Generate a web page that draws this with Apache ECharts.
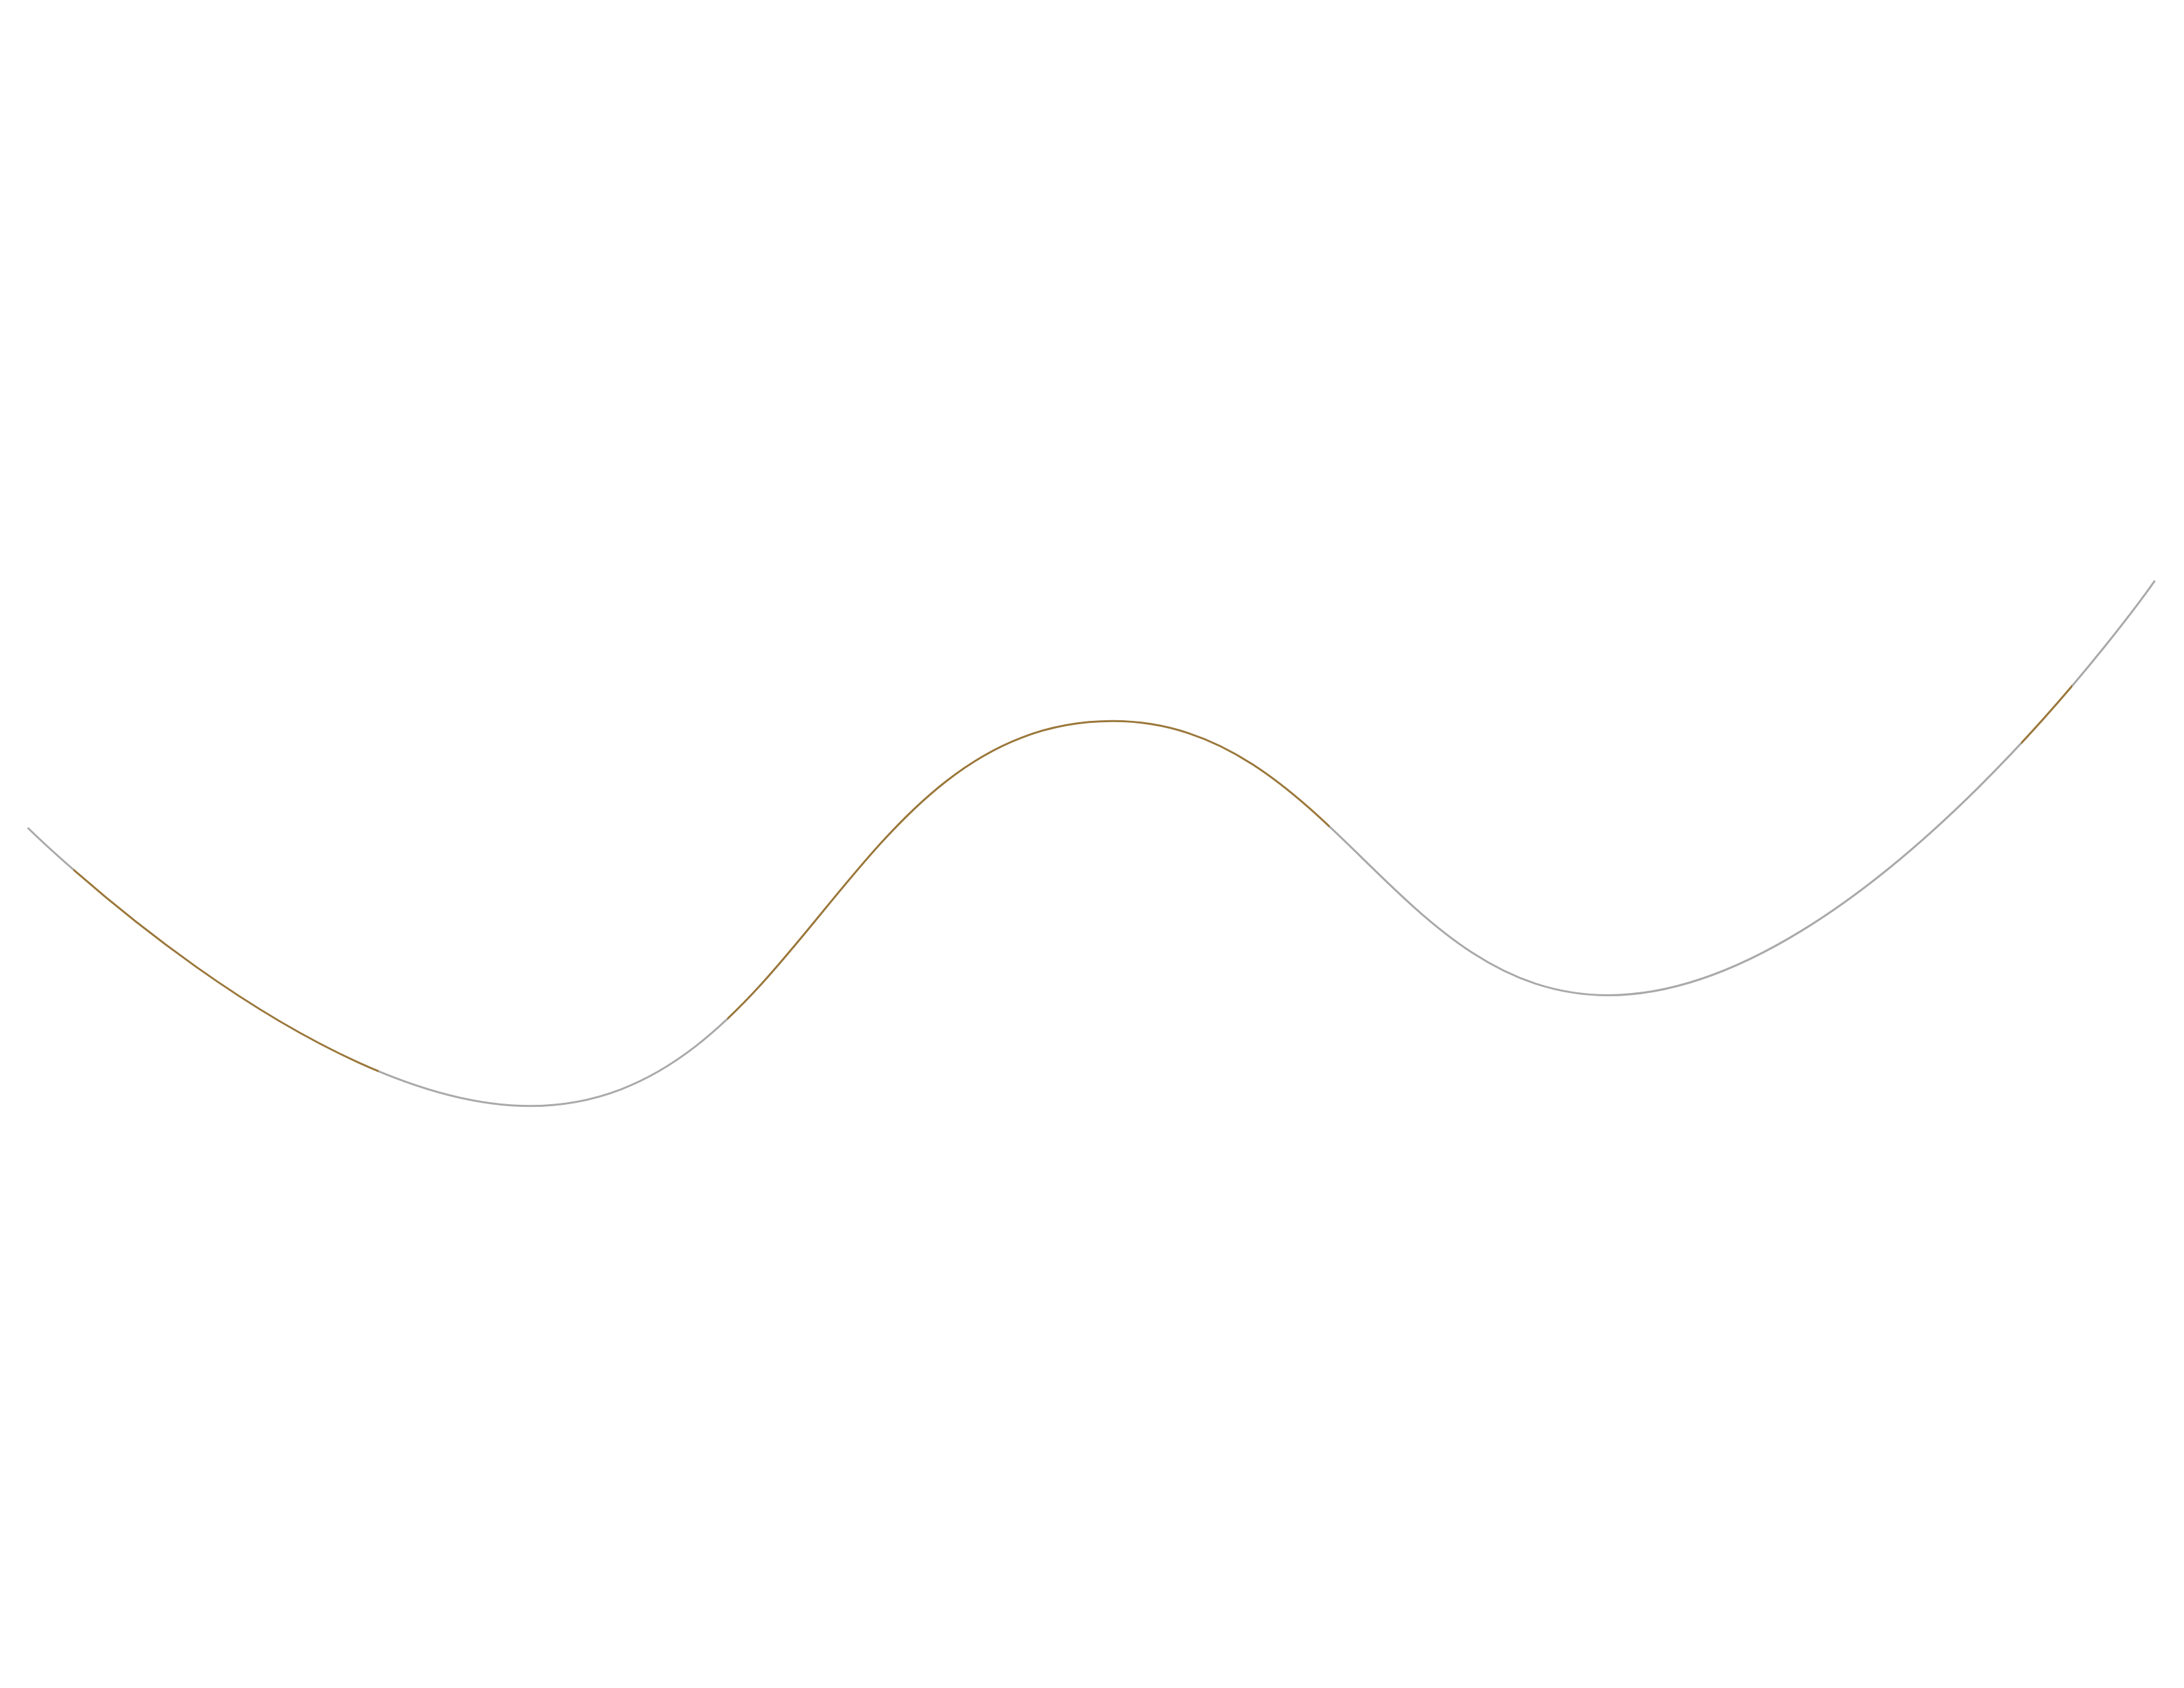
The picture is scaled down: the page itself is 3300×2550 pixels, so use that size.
<!DOCTYPE html>
<html>
<head>
<meta charset="utf-8">
<script src="https://cdn.jsdelivr.net/npm/echarts@6/dist/echarts.min.js"></script>
<style>html,body{margin:0;padding:0;background:#fff;}#chart{width:3300px;height:2550px;}</style>
</head>
<body>
<div id="chart"></div>
<script>
// x positions (arbitrary units 0..100) and values
const xValues = [0, 23.6, 51.0, 74.3, 100];
const yValues = [51.2, 30.6, 59.1, 38.8, 69.5];
// highlighted x ranges (same units as xValues)
const highlightRanges = [[2.15, 16.5], [32.9, 61.2], [93.7, 96.1]];
const highlightColor = '#9a773a';
const baseColor = '#a9a9a9';

const chart = echarts.init(document.getElementById('chart'), null, {renderer: 'canvas'});
chart.setOption({
  animation: false,
  backgroundColor: '#ffffff',
  grid: {left: 42, right: 44, top: 255, bottom: 255},
  xAxis: {type: 'value', min: 0, max: 100, show: false},
  yAxis: {type: 'value', min: 0, max: 100, show: false},
  visualMap: {
    show: false,
    type: 'piecewise',
    dimension: 0,
    seriesIndex: 0,
    pieces: highlightRanges.map(r => ({gt: r[0], lte: r[1], color: highlightColor})),
    outOfRange: {color: baseColor}
  },
  series: [{
    type: 'line',
    smooth: 0.45,
    symbol: 'none',
    lineStyle: {width: 3},
    data: xValues.map((x, i) => [x, yValues[i]])
  }]
});
</script>
</body>
</html>
